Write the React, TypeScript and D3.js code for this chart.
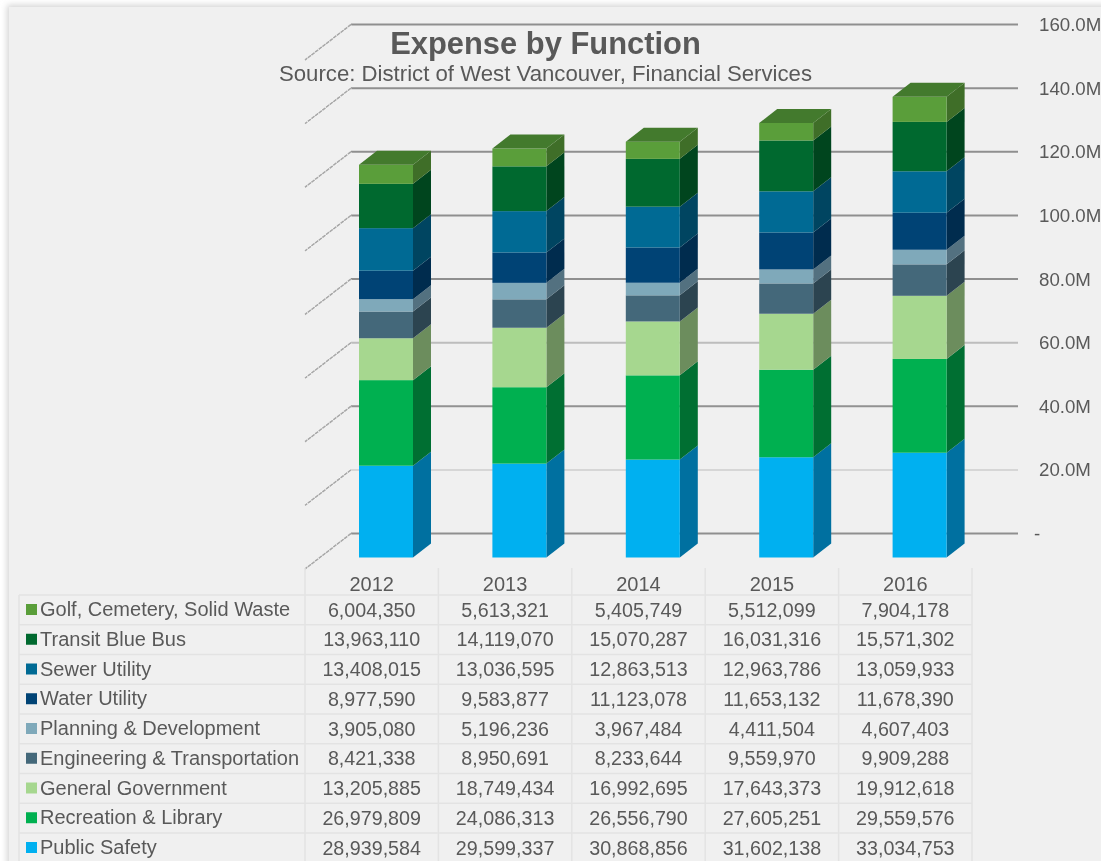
import React from "react";
import * as d3 from "d3";

const years = ["2012", "2013", "2014", "2015", "2016"];

const golf = [6004350, 5613321, 5405749, 5512099, 7904178];
const transit = [13963110, 14119070, 15070287, 16031316, 15571302];
const sewer = [13408015, 13036595, 12863513, 12963786, 13059933];
const water = [8977590, 9583877, 11123078, 11653132, 11678390];
const planning = [3905080, 5196236, 3967484, 4411504, 4607403];
const engineering = [8421338, 8950691, 8233644, 9559970, 9909288];
const general = [13205885, 18749434, 16992695, 17643373, 19912618];
const recreation = [26979809, 24086313, 26556790, 27605251, 29559576];
const safety = [28939584, 29599337, 30868856, 31602138, 33034753];

// top to bottom, same as the data table
const seriesNames = [
  "Golf, Cemetery, Solid Waste",
  "Transit Blue Bus",
  "Sewer Utility",
  "Water Utility",
  "Planning & Development",
  "Engineering & Transportation",
  "General Government",
  "Recreation & Library",
  "Public Safety",
];
const seriesValues = [golf, transit, sewer, water, planning, engineering, general, recreation, safety];
const frontColors = ["#5a9e3a", "#00692f", "#006a94", "#004375", "#7fa9ba", "#44687a", "#a6d78f", "#00b050", "#00b0f0"];
const sideColors = ["#3f6e28", "#00451e", "#004561", "#002c4e", "#537180", "#2c4450", "#6c8d5d", "#006f32", "#0070a0"];
const topColor = "#437a2d";

const axisTicks = [0, 20, 40, 60, 80, 100, 120, 140, 160];
// the gridlines are not all the same grey in the picture
const gridColors = ["#8f8f8f", "#d6d6d6", "#929292", "#bdbdbd", "#8f8f8f", "#8f8f8f", "#8f8f8f", "#8f8f8f", "#8f8f8f"];

const textColor = "#595959";
const font = "'Liberation Sans', Arial, sans-serif";

const depthX = 18;
const depthY = 14;

const App: React.FC = () => {
  const width = 1101;
  const height = 861;

  const rows = years.map((year, i) => {
    const row: Record<string, number | string> = { year };
    seriesNames.forEach((name, s) => {
      row[name] = seriesValues[s][i];
    });
    return row;
  });
  const stacked = d3.stack<any>().keys([...seriesNames].reverse())(rows);

  const xScale = d3.scaleBand<string>().domain(years).range([305, 972]);
  const wallY = d3.scaleLinear().domain([0, 160]).range([533.5, 24.5]);
  const barY = d3.scaleLinear().domain([0, 160000000]).range([557.5, 50]);

  const barW = 54;
  const barX = (year: string) => (xScale(year) ?? 0) + 54;

  const rowH = 29.75;
  const tableTop = 595;
  const rowY = d3.range(seriesNames.length).map((i) => tableTop + i * rowH);
  const fmt = d3.format(",");

  const vLines = [...years.map((y) => xScale(y) ?? 0), 972];

  return (
    <svg
      width={width}
      height={height}
      style={{ position: "absolute", left: 0, top: 0, fontFamily: font }}
    >
      <defs>
        <filter id="cardShadow" x="-5%" y="-5%" width="110%" height="110%">
          <feGaussianBlur stdDeviation={3} />
        </filter>
      </defs>
      <rect width={width} height={height} fill="#fff" />
      <rect x={7} y={5} width={1110} height={880} fill="#d4d4d4" filter="url(#cardShadow)" />
      <rect x={9} y={7} width={1110} height={880} fill="#f0f0f0" />

      <g style={{ filter: "blur(0.35px)" }}>
        {/* walls */}
        {axisTicks.map((t, i) => {
          const y = wallY(t);
          return (
            <g key={t}>
              <line x1={351} x2={1018} y1={y} y2={y} stroke={gridColors[i]} strokeWidth={2} />
              <line x1={351} x2={305} y1={y} y2={y + 35.5} stroke="#ffffff" strokeWidth={2.2} />
              <line
                x1={351}
                x2={305}
                y1={y}
                y2={y + 35.5}
                stroke="#a8a8a8"
                strokeWidth={1.6}
                strokeDasharray="4 0.6"
              />
              <text x={t === 0 ? 1034 : 1039} y={y + 6.5} fontSize={18.7} fill={textColor}>
                {t === 0 ? "-" : `${t.toFixed(1)}M`}
              </text>
            </g>
          );
        })}

        {/* bars, bottom segment first */}
        {stacked.map((layer) => {
          const s = seriesNames.indexOf(layer.key);
          return (
            <g key={layer.key}>
              {layer.map((d, i) => {
                const x = barX(years[i]);
                const y0 = barY(d[0]);
                const y1 = barY(d[1]);
                const right = x + barW;
                return (
                  <g key={years[i]}>
                    <polygon
                      points={`${right},${y0} ${right + depthX},${y0 - depthY} ${right + depthX},${y1 - depthY} ${right},${y1}`}
                      fill={sideColors[s]}
                    />
                    <rect x={x} y={y1} width={barW} height={y0 - y1} fill={frontColors[s]} />
                    {s === 0 && (
                      <polygon
                        points={`${x},${y1} ${right},${y1} ${right + depthX},${y1 - depthY} ${x + depthX},${y1 - depthY}`}
                        fill={topColor}
                      />
                    )}
                  </g>
                );
              })}
            </g>
          );
        })}

        <text x={545.5} y={54} textAnchor="middle" fontSize={30.9} fontWeight="bold" fill={textColor}>
          Expense by Function
        </text>
        <text x={545.5} y={80.5} textAnchor="middle" fontSize={22.2} fill={textColor}>
          Source: District of West Vancouver, Financial Services
        </text>

        {/* data table */}
        <g stroke="#e3e3e3" strokeWidth={1.5}>
          {vLines.map((x) => (
            <line key={x} x1={x} x2={x} y1={568} y2={height} />
          ))}
          <line x1={19} x2={19} y1={tableTop} y2={height} />
          {rowY.map((y) => (
            <line key={y} x1={19} x2={972} y1={y} y2={y} />
          ))}
        </g>
        {years.map((year) => (
          <text
            key={year}
            x={(xScale(year) ?? 0) + xScale.bandwidth() / 2}
            y={591}
            textAnchor="middle"
            fontSize={20}
            fill={textColor}
          >
            {year}
          </text>
        ))}
        {seriesNames.map((name, s) => (
          <g key={name}>
            <rect x={26} y={rowY[s] + 9} width={11} height={11} fill={frontColors[s]} />
            <text x={40} y={rowY[s] + 21} fontSize={20} fill={textColor}>
              {name}
            </text>
            {seriesValues[s].map((v, i) => (
              <text
                key={years[i]}
                x={(xScale(years[i]) ?? 0) + xScale.bandwidth() / 2}
                y={rowY[s] + 21.5}
                textAnchor="middle"
                fontSize={19.7}
                fill={textColor}
              >
                {fmt(v)}
              </text>
            ))}
          </g>
        ))}
      </g>
    </svg>
  );
};

export default App;
